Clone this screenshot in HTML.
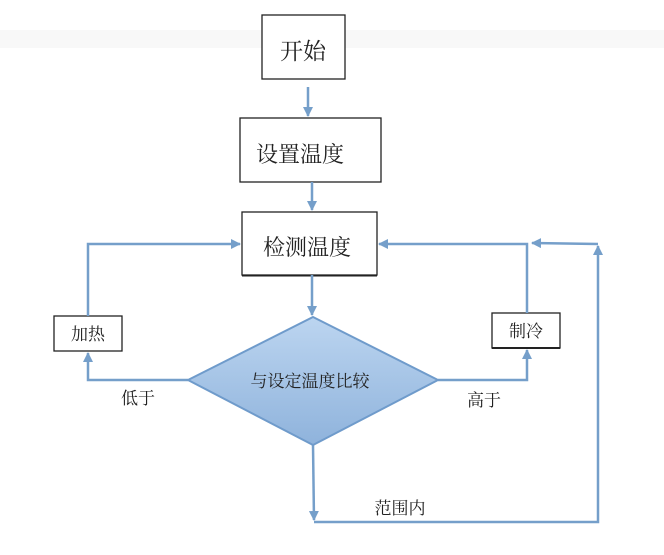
<!DOCTYPE html>
<html><head><meta charset="utf-8"><style>
body{margin:0;background:#fff;width:664px;height:555px;overflow:hidden}
svg{display:block}
text{font-family:"Noto Serif CJK SC","Liberation Serif",serif;fill:#222}
</style></head><body>
<svg width="664" height="555" xmlns="http://www.w3.org/2000/svg">
<defs>
<linearGradient id="g" x1="0" y1="0" x2="0" y2="1"><stop offset="0" stop-color="#bcd5f0"/><stop offset="1" stop-color="#8fb3dc"/></linearGradient>
<marker id="a" markerWidth="10" markerHeight="10" refX="9" refY="5" orient="auto" markerUnits="userSpaceOnUse"><path d="M0,0 L10,5 L0,10 Z" fill="#759fca"/></marker>
</defs>
<rect x="0" y="30" width="664" height="18" fill="#f8f8f8"/>
<g fill="#fff" stroke="#222" stroke-width="1.3">
<rect x="262" y="15" width="83" height="64"/>
<rect x="240" y="118" width="141" height="64"/>
<rect x="242" y="212" width="135" height="63"/>
<rect x="54" y="316" width="68" height="35"/>
<rect x="492" y="313" width="68" height="35"/>
</g>
<line x1="242" y1="275.5" x2="377" y2="275.5" stroke="#222" stroke-width="2"/>
<line x1="492" y1="348" x2="560" y2="348" stroke="#222" stroke-width="2"/>
<g stroke="#759fca" stroke-width="2.5" fill="none">
<line x1="308" y1="87" x2="308" y2="116" marker-end="url(#a)"/>
<line x1="312" y1="182" x2="312" y2="210" marker-end="url(#a)"/>
<line x1="312" y1="275" x2="312" y2="315" marker-end="url(#a)"/>
<polyline points="88,316 88,244 240,244" marker-end="url(#a)"/>
<polyline points="188,380 88,380 88,353" marker-end="url(#a)"/>
<polyline points="438,380 527,380 527,350" marker-end="url(#a)"/>
<polyline points="527,313 527,244 379,244" marker-end="url(#a)"/>
<polyline points="313,445 314,520" marker-end="url(#a)"/>
<polyline points="314,522 598,522 598,246" marker-end="url(#a)"/>
<line x1="598" y1="244" x2="532" y2="243" marker-end="url(#a)"/>
</g>
<polygon points="313,317 438,380 313,445 188,380" fill="url(#g)" stroke="#6f9bcb" stroke-width="2"/>
<text x="303" y="59" font-size="23" text-anchor="middle">开始</text>
<text x="300" y="162" font-size="22" text-anchor="middle">设置温度</text>
<text x="307" y="255" font-size="22" text-anchor="middle">检测温度</text>
<text x="88" y="340" font-size="17" text-anchor="middle">加热</text>
<text x="526" y="337" font-size="17" text-anchor="middle">制冷</text>
<text x="310" y="387" font-size="17" text-anchor="middle">与设定温度比较</text>
<text x="138" y="404" font-size="17" text-anchor="middle">低于</text>
<text x="484" y="406" font-size="17" text-anchor="middle">高于</text>
<text x="400" y="514" font-size="17" text-anchor="middle">范围内</text>
</svg>
</body></html>
